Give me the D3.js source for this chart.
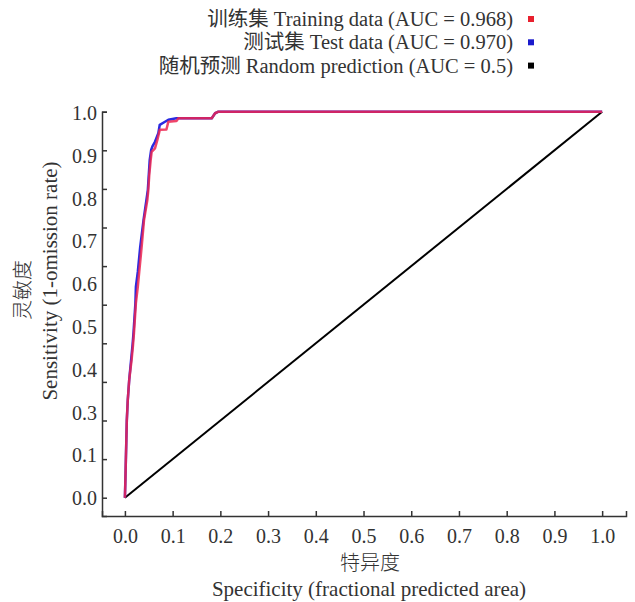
<!DOCTYPE html>
<html lang="zh">
<head>
  <meta charset="UTF-8" />
  <title>ROC curve</title>
  <script src="https://cdn.jsdelivr.net/npm/d3@7"></script>
  <style>
    body {
      margin: 0;
      background: #fff;
    }
    svg text {
      font-family: "Liberation Serif", "Noto Sans CJK SC", serif;
      fill: #333;
    }
    .axis path, .axis line {
      stroke: #333;
      stroke-width: 1.5;
    }
  </style>
</head>
<body>
  <div id="chart"></div>

  <script type="text/javascript">
    // ROC points: [1 - specificity, sensitivity]
    var trainFpr = [0, 0.001, 0.002, 0.003, 0.004, 0.006, 0.009, 0.014, 0.017, 0.019, 0.023, 0.027, 0.030, 0.035, 0.040, 0.047, 0.049, 0.051, 0.054, 0.056, 0.063, 0.068, 0.073, 0.087, 0.091, 0.108, 0.112, 0.182, 0.189, 0.196, 1.0];
    var trainTpr = [0, 0.046, 0.098, 0.149, 0.201, 0.253, 0.305, 0.357, 0.396, 0.427, 0.504, 0.546, 0.585, 0.649, 0.719, 0.771, 0.797, 0.836, 0.875, 0.896, 0.905, 0.927, 0.953, 0.954, 0.974, 0.976, 0.983, 0.983, 0.996, 1.0, 1.0];

    var testFpr = [0, 0.001, 0.002, 0.003, 0.004, 0.006, 0.009, 0.013, 0.016, 0.018, 0.022, 0.023, 0.027, 0.032, 0.039, 0.045, 0.048, 0.050, 0.052, 0.055, 0.058, 0.063, 0.070, 0.073, 0.084, 0.091, 0.108, 0.182, 0.189, 0.196, 1.0];
    var testTpr = [0, 0.046, 0.098, 0.149, 0.201, 0.253, 0.305, 0.357, 0.396, 0.427, 0.504, 0.546, 0.585, 0.649, 0.719, 0.771, 0.797, 0.836, 0.875, 0.901, 0.911, 0.922, 0.944, 0.966, 0.974, 0.979, 0.983, 0.983, 0.996, 1.0, 1.0];

    var randomFpr = [0, 1];
    var randomTpr = [0, 1];

    var xTicks = [0, 0.1, 0.2, 0.3, 0.4, 0.5, 0.6, 0.7, 0.8, 0.9, 1.0];
    var yTicks = [0, 0.1, 0.2, 0.3, 0.4, 0.5, 0.6, 0.7, 0.8, 0.9, 1.0];
    // the y labels as printed in the source figure (no "0.2")
    var yTickLabels = ["0.0", "0.1", "0.3", "0.4", "0.5", "0.6", "0.7", "0.8", "0.9", "1.0"];

    var legendLabels = [
      "训练集 Training data (AUC = 0.968)",
      "测试集 Test data (AUC = 0.970)",
      "随机预测 Random prediction (AUC = 0.5)"
    ];
    var legendColors = ["#e8202e", "#1a1acc", "#000000"];

    var width = 635, height = 602;

    var svg = d3.select("#chart").append("svg")
      .attr("width", width)
      .attr("height", height);

    var x = d3.scaleLinear().domain([-0.048, 1.05]).range([102, 626]);
    var y = d3.scaleLinear().domain([-0.0474, 1.0]).range([516, 111.7]);

    // x axis, ticks pointing inward
    svg.append("g")
      .attr("class", "axis")
      .attr("transform", "translate(0," + y.range()[0] + ")")
      .call(d3.axisBottom(x)
        .tickValues(xTicks)
        .tickFormat(d3.format(".1f"))
        .tickSize(-5)
        .tickSizeOuter(-5)
        .tickPadding(13))
      .call(g => g.selectAll("text").style("font-size", "20px").attr("fill", "#333"));

    // y axis: tick marks only
    svg.append("g")
      .attr("class", "axis")
      .attr("transform", "translate(" + x.range()[0] + ",0)")
      .call(d3.axisLeft(y)
        .tickValues(yTicks)
        .tickFormat("")
        .tickSize(-5)
        .tickSizeOuter(-5));

    // y labels are spread evenly over the axis, like the original
    var yLabelScale = d3.scalePoint()
      .domain(yTickLabels)
      .range([y(0) + 0.5, y(1) + 1.5]);

    svg.append("g")
      .attr("class", "axis")
      .attr("transform", "translate(" + x.range()[0] + ",0)")
      .call(d3.axisLeft(yLabelScale).tickSize(0).tickPadding(5))
      .call(g => g.select(".domain").remove())
      .call(g => g.selectAll("text").style("font-size", "20px").attr("fill", "#333"));

    // curves
    var line = d3.line()
      .x(d => x(d[0]))
      .y(d => y(d[1]));

    svg.append("path")
      .datum(d3.zip(randomFpr, randomTpr))
      .attr("d", line)
      .attr("fill", "none")
      .attr("stroke", "#000")
      .attr("stroke-width", 2);

    svg.append("path")
      .datum(d3.zip(testFpr, testTpr))
      .attr("d", line)
      .attr("fill", "none")
      .attr("stroke", "#2a2ae0")
      .attr("stroke-width", 2.5)
      .attr("stroke-linejoin", "round");

    svg.append("path")
      .datum(d3.zip(trainFpr, trainTpr))
      .attr("d", line)
      .attr("fill", "none")
      .attr("stroke", "#ec2550")
      .attr("stroke-opacity", 0.85)
      .attr("stroke-width", 2.5)
      .attr("stroke-linejoin", "round");

    // legend (text right aligned, marker on the right)
    var legend = svg.append("g").attr("class", "legend");
    legendLabels.forEach(function(label, i) {
      var yy = 26 + i * 23.3;
      legend.append("text")
        .attr("x", 513)
        .attr("y", yy)
        .attr("text-anchor", "end")
        .style("font-size", "20.5px")
        .text(label);
      legend.append("rect")
        .attr("x", 528)
        .attr("y", yy - 10)
        .attr("width", 6)
        .attr("height", 6)
        .attr("fill", legendColors[i]);
    });

    // axis titles
    svg.append("text")
      .attr("transform", "translate(30,290) rotate(-90)")
      .attr("text-anchor", "middle")
      .style("font-size", "20px")
      .style("font-weight", 300)
      .text("灵敏度");

    svg.append("text")
      .attr("transform", "translate(57,281) rotate(-90)")
      .attr("text-anchor", "middle")
      .style("font-size", "21px")
      .text("Sensitivity (1-omission rate)");

    svg.append("text")
      .attr("x", 370)
      .attr("y", 570)
      .attr("text-anchor", "middle")
      .style("font-size", "20px")
      .style("font-weight", 300)
      .text("特异度");

    svg.append("text")
      .attr("x", 369)
      .attr("y", 596)
      .attr("text-anchor", "middle")
      .style("font-size", "21px")
      .text("Specificity (fractional predicted area)");
  </script>
</body>
</html>
